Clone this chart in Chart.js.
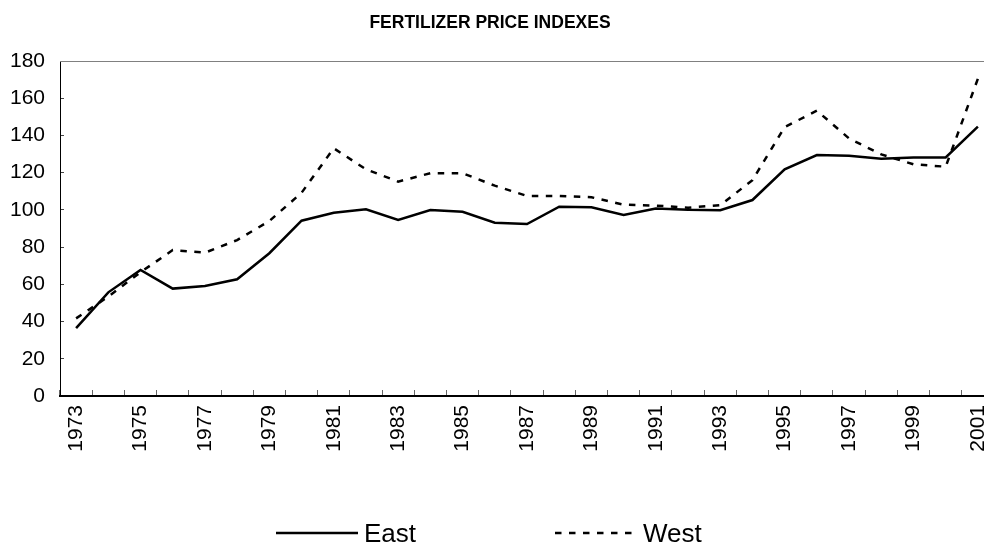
<!DOCTYPE html>
<html>
<head>
<meta charset="utf-8">
<title>Fertilizer price indexes</title>
<script src="https://cdn.jsdelivr.net/npm/chart.js@4.4.1/dist/chart.umd.min.js"></script>
<style>
  html, body { margin: 0; padding: 0; background: #fff; overflow: hidden; }
  /* the plot runs a little past the right edge of the picture, so the wrapper crops it */
  #wrap { width: 984px; height: 545px; overflow: hidden; position: relative; }
  canvas { display: block; }
</style>
</head>
<body>
<div id="wrap"><canvas id="priceChart" width="1000" height="545"></canvas></div>
<script>
// --- data ---
const chartTitle = 'FERTILIZER PRICE INDEXES';
const years = ['1973', '1974', '1975', '1976', '1977', '1978', '1979', '1980', '1981', '1982',
               '1983', '1984', '1985', '1986', '1987', '1988', '1989', '1990', '1991', '1992',
               '1993', '1994', '1995', '1996', '1997', '1998', '1999', '2000', '2001'];
const east = [36.5, 55.7, 67.7, 57.7, 59.1, 62.7, 76.7, 94.2, 98.5, 100.3,
              94.6, 99.9, 99.0, 93.1, 92.4, 101.7, 101.4, 97.3, 100.8, 100.1,
              99.8, 105.3, 121.8, 129.5, 129.1, 127.5, 128.2, 128.2, 144.7];
const west = [41.7, 53.4, 66.5, 78.4, 77.0, 83.8, 94.0, 109.2, 133.1, 121.8,
              115.2, 119.7, 119.7, 113.0, 107.5, 107.5, 106.8, 102.8, 102.3, 101.2,
              102.5, 116.0, 144.5, 153.3, 138.4, 129.8, 124.5, 123.2, 170.5];
const yMin = 0, yMax = 180, yStep = 10, yLabelStep = 20;

const FONT = '"Liberation Sans", Arial, Helvetica, sans-serif';

// title, top border of the plot and the legend at the bottom
const decorations = {
    id: 'decorations',
    beforeDatasetsDraw(chart) {
        const { ctx, chartArea } = chart;
        ctx.save();
        ctx.strokeStyle = '#808080';
        ctx.lineWidth = 1;
        ctx.beginPath();
        ctx.moveTo(chartArea.left, chartArea.top + 0.5);
        ctx.lineTo(chartArea.right, chartArea.top + 0.5);
        ctx.stroke();
        ctx.restore();
    },
    afterDraw(chart) {
        const ctx = chart.ctx;
        ctx.save();
        ctx.fillStyle = '#000';
        ctx.font = 'bold 17.5px ' + FONT;
        ctx.textAlign = 'center';
        ctx.textBaseline = 'alphabetic';
        ctx.fillText(chartTitle, 490, 28);

        // legend entries
        const items = [{ x: 276 }, { x: 555 }];
        ctx.font = '26px ' + FONT;
        ctx.textAlign = 'left';
        chart.data.datasets.forEach((ds, i) => {
            const x0 = items[i].x, y = 533;
            ctx.strokeStyle = ds.borderColor;
            ctx.lineWidth = ds.borderWidth;
            ctx.setLineDash(ds.borderDash || []);
            ctx.beginPath();
            ctx.moveTo(x0, y);
            ctx.lineTo(x0 + 82, y);
            ctx.stroke();
            ctx.setLineDash([]);
            ctx.fillText(ds.label, x0 + 88, 542);
        });
        ctx.restore();
    }
};

function initChart() {
    const ctx = document.getElementById('priceChart').getContext('2d');
    new Chart(ctx, {
        type: 'line',
        data: {
            labels: years,
            datasets: [{
                label: 'East',
                data: east,
                borderColor: '#000',
                borderWidth: 2.5,
                pointRadius: 0,
                tension: 0
            }, {
                label: 'West',
                data: west,
                borderColor: '#000',
                borderWidth: 2.5,
                borderDash: [6.5, 7.5],
                pointRadius: 0,
                tension: 0
            }]
        },
        options: {
            responsive: false,
            animation: false,
            layout: { padding: { top: 61, right: 6, left: 0, bottom: 0 } },
            plugins: {
                legend: { display: false },
                title: { display: false },
                tooltip: { enabled: false }
            },
            scales: {
                x: {
                    offset: true,
                    grid: { offset: true, drawOnChartArea: false, tickLength: -6, color: '#666', lineWidth: 1 },
                    border: { color: '#000', width: 2 },
                    ticks: {
                        autoSkip: false,
                        minRotation: 90,
                        maxRotation: 90,
                        padding: 15,
                        color: '#000',
                        font: { family: FONT, size: 21 },
                        callback: (v, i) => (i % 2 === 0 ? years[i] : '')
                    },
                    afterFit: (scale) => {
                        scale.height = 149;
                        scale.paddingLeft = 0;
                        scale.paddingRight = 0;
                    }
                },
                y: {
                    min: yMin,
                    max: yMax,
                    grid: { drawOnChartArea: false, tickLength: -4, color: '#444', lineWidth: 1 },
                    border: { color: '#000', width: 1 },
                    ticks: {
                        stepSize: yStep,
                        padding: 19,
                        color: '#000',
                        font: { family: FONT, size: 21 },
                        callback: (v) => (v % yLabelStep === 0 ? v : '')
                    },
                    afterFit: (scale) => { scale.width = 60; }
                }
            }
        },
        plugins: [decorations]
    });
}

window.onload = initChart;
</script>
</body>
</html>
